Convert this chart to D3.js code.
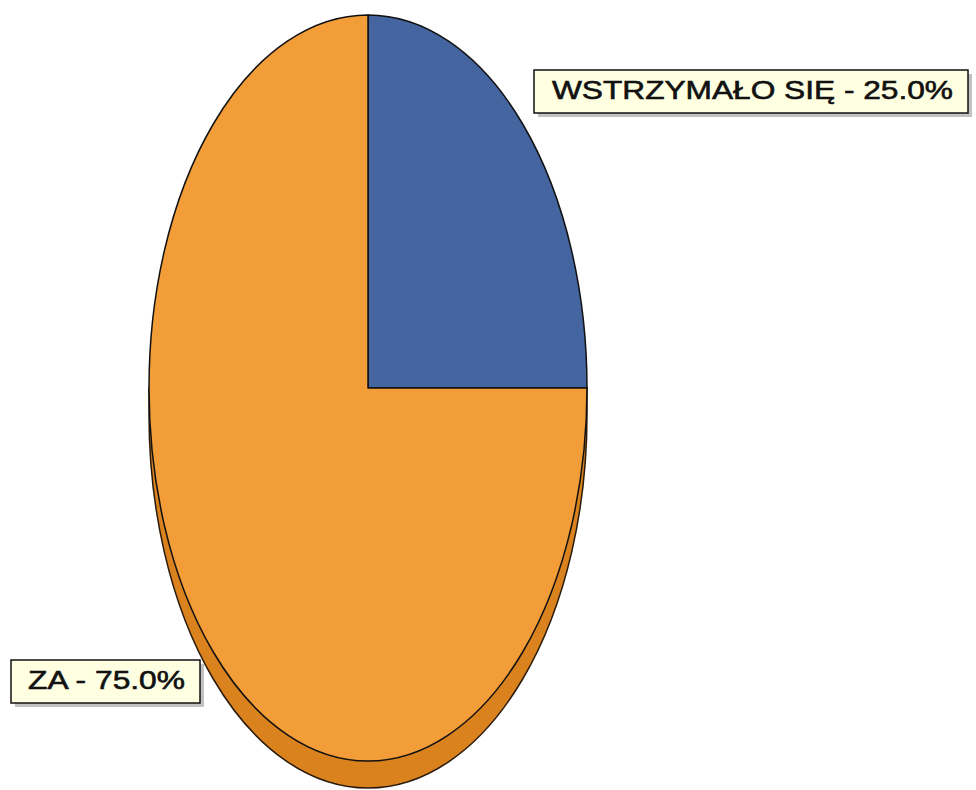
<!DOCTYPE html>
<html>
<head>
<meta charset="utf-8">
<script src="https://cdn.jsdelivr.net/npm/d3@7"></script>
<style>
  body { margin: 0; background: #fff; }
  svg { display: block; }
</style>
</head>
<body>
<div id="chart"></div>
<script>
// Wyniki głosowania — eliptyczny wykres kołowy z "grubością" 3D
const categories = ['WSTRZYMAŁO SIĘ', 'ZA'];
const shares = [25.0, 75.0];
const colors = ['#4465A0', '#F29D38'];

const width = 976, height = 790;
const cx = 368, cy = 388, rx = 219, ry = 373, depth = 27;

const svg = d3.select('#chart').append('svg')
  .attr('width', width).attr('height', height);

const data = categories.map((c, i) => ({ cat: c, pct: shares[i], color: colors[i] }));
const pie = d3.pie().sort(null).value(d => d.pct);
const arcs = pie(data);
const arc = d3.arc().innerRadius(0).outerRadius(1);

// ściana boczna (dolna połowa elipsy przesunięta o depth)
const sideG = svg.append('g').attr('transform', `translate(${cx},${cy}) scale(${rx},${ry})`);
const dd = depth / ry;
sideG.append('path')
  .attr('d', `M-1,0 L-1,${dd} A1,1 0 0 0 1,${dd} L1,0 Z`)
  .attr('fill', '#D9821E')
  .attr('stroke', '#2a1a0a').attr('stroke-width', 1.5)
  .attr('vector-effect', 'non-scaling-stroke');

// wierzch
const topG = svg.append('g').attr('transform', `translate(${cx},${cy}) scale(${rx},${ry})`);
topG.selectAll('path.slice').data(arcs).join('path')
  .attr('class', 'slice')
  .attr('d', arc)
  .attr('fill', a => a.data.color)
  .attr('stroke', '#111').attr('stroke-width', 1.5)
  .attr('stroke-linejoin', 'round')
  .attr('vector-effect', 'non-scaling-stroke');

// etykiety
const labels = [
  { i: 0, x: 534, y: 70, w: 434, h: 43, tx: 552, ty: 99, tw: 401 },
  { i: 1, x: 11, y: 660, w: 189, h: 43, tx: 28, ty: 689, tw: 157 }
];
labels.forEach(l => {
  const a = arcs[l.i];
  const g = svg.append('g');
  g.append('rect').attr('x', l.x + 4).attr('y', l.y + 4).attr('width', l.w).attr('height', l.h)
    .attr('fill', '#9a9a9a').attr('opacity', 0.6);
  g.append('rect').attr('x', l.x).attr('y', l.y).attr('width', l.w).attr('height', l.h)
    .attr('fill', '#FFFFE1').attr('stroke', '#111').attr('stroke-width', 1.5);
  g.append('text').attr('x', l.tx).attr('y', l.ty)
    .attr('font-family', 'Liberation Sans, Arial, sans-serif')
    .attr('font-size', 26).attr('fill', '#111')
    .attr('stroke', '#111').attr('stroke-width', 0.6)
    .attr('textLength', l.tw).attr('lengthAdjust', 'spacingAndGlyphs')
    .text(`${a.data.cat} - ${a.data.pct.toFixed(1)}%`);
});
</script>
</body>
</html>
